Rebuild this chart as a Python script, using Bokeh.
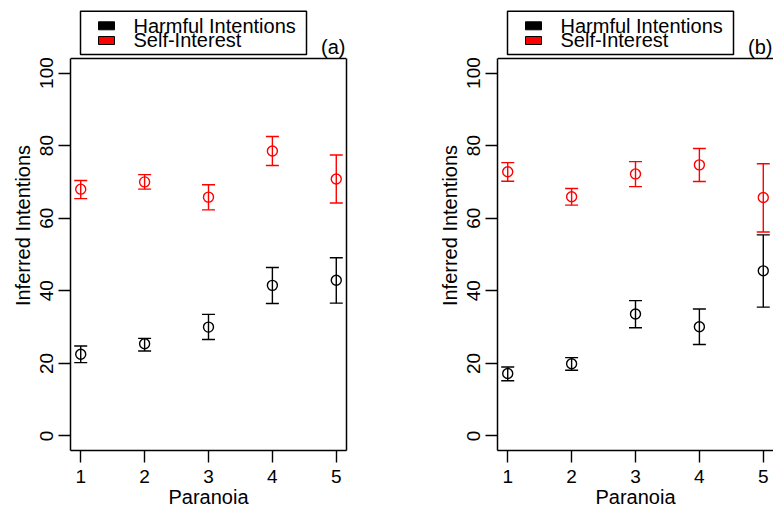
import math
from bokeh.plotting import figure
from bokeh.models import (Range1d, FixedTicker, LinearAxis, Whisker, TeeHead, Span,
                          ColumnDataSource, BoxAnnotation, Label)
from bokeh.layouts import row
from bokeh.embed import file_html
from bokeh.resources import INLINE

FONT = "Liberation Sans"
FS_TICK = "19px"
FS_TEXT = "20px"

# ---------------- data ----------------
paranoia = [1, 2, 3, 4, 5]
y_ticks = [0, 20, 40, 60, 80, 100]
series_names = ["Harmful Intentions", "Self-Interest"]
series_colors = ["black", "red"]
x_label = "Paranoia"
y_label = "Inferred Intentions"

# panel (a)
a_harm_mean = [22.5, 25.4, 30.0, 41.5, 42.9]
a_harm_lo = [20.2, 23.4, 26.6, 36.5, 36.6]
a_harm_hi = [24.8, 26.9, 33.5, 46.4, 49.1]
a_self_mean = [68.0, 70.0, 65.8, 78.5, 70.8]
a_self_lo = [65.4, 68.0, 62.3, 74.5, 64.2]
a_self_hi = [70.4, 72.0, 69.2, 82.5, 77.4]

# panel (b)
b_harm_mean = [17.2, 19.9, 33.6, 30.1, 45.5]
b_harm_lo = [15.2, 18.1, 29.8, 25.2, 35.5]
b_harm_hi = [19.0, 21.6, 37.3, 35.0, 55.4]
b_self_mean = [72.8, 65.9, 72.2, 74.7, 65.7]
b_self_lo = [70.2, 63.6, 68.7, 70.1, 56.2]
b_self_hi = [75.3, 68.2, 75.6, 79.2, 75.0]

# ---------------- layout constants ----------------
X0, X1 = 0.84, 5.16          # box x limits
Y0, Y1 = -4, 104             # box y limits
BOX_H = 392                  # box height in px
FRAME_H = 450                # frame (box + room for the legend above)
Y_END = Y0 + FRAME_H * (Y1 - Y0) / BOX_H
FRAME_W = 276


def style_axis(ax, tick_standoff, label_standoff):
    ax.major_tick_out = 12
    ax.major_tick_in = 0
    ax.minor_tick_out = 0
    ax.minor_tick_in = 0
    ax.major_tick_line_width = 1.4
    ax.major_tick_line_color = "black"
    ax.major_label_text_font = FONT
    ax.major_label_text_font_size = FS_TICK
    ax.major_label_text_color = "black"
    ax.major_label_standoff = tick_standoff
    ax.axis_line_color = "black"
    ax.axis_line_width = 1.5
    ax.axis_label_text_font = FONT
    ax.axis_label_text_font_size = FS_TEXT
    ax.axis_label_text_font_style = "normal"
    ax.axis_label_text_color = "black"
    ax.axis_label_standoff = label_standoff


def make_panel(tag, series, width, right_border, draw_right):
    p = figure(width=width, height=510,
               x_range=Range1d(X0, X1), y_range=Range1d(Y0, Y_END),
               output_backend="svg", toolbar_location=None,
               min_border_left=70, min_border_right=right_border,
               min_border_top=0, min_border_bottom=60)
    p.grid.visible = False
    p.outline_line_color = None
    p.background_fill_color = "white"
    p.border_fill_color = "white"

    p.xaxis.ticker = FixedTicker(ticks=paranoia)
    p.yaxis.ticker = FixedTicker(ticks=y_ticks)
    p.yaxis.bounds = (Y0, Y1)
    style_axis(p.xaxis[0], 7, 0)
    style_axis(p.yaxis[0], 5, 4)
    p.yaxis.major_label_orientation = "vertical"
    p.xaxis.axis_label = x_label
    p.yaxis.axis_label = y_label

    # box: top edge and (when visible) right edge
    p.add_layout(Span(location=Y1, dimension="width", line_color="black", line_width=1.5))
    if draw_right:
        rax = LinearAxis(bounds=(Y0, Y1), ticker=FixedTicker(ticks=[]),
                         major_label_text_font_size="0px", major_label_standoff=0,
                         major_tick_out=0, major_tick_in=0, minor_tick_out=0, minor_tick_in=0,
                         axis_line_color="black", axis_line_width=1.5)
        p.add_layout(rax, "right")

    for (mean, lo, hi), col in zip(series, series_colors):
        src = ColumnDataSource(dict(x=paranoia, m=mean, lo=lo, hi=hi))
        w = Whisker(source=src, base="x", upper="hi", lower="lo",
                    line_color=col, line_width=1.4,
                    upper_head=TeeHead(size=13, line_color=col, line_width=1.4),
                    lower_head=TeeHead(size=13, line_color=col, line_width=1.4))
        p.add_layout(w)
        p.scatter("x", "m", source=src, marker="circle", size=10,
                  fill_color=None, line_color=col, line_width=1.4)

    # legend (box, colour swatches, labels) placed above the data box
    scr = dict(left_units="screen", right_units="screen", top_units="screen", bottom_units="screen")
    p.add_layout(BoxAnnotation(left=10, right=236, top=439.3, bottom=396,
                               fill_color="white", fill_alpha=1.0,
                               line_color="black", line_width=1.5, line_alpha=1.0, **scr))
    rows_y = [424.7, 410.0]
    base_y = [424.7, 410.3]
    for name, col, yc, yb in zip(series_names, series_colors, rows_y, base_y):
        p.add_layout(BoxAnnotation(left=28, right=44, top=yc + 4, bottom=yc - 4,
                                   fill_color=col, fill_alpha=1.0,
                                   line_color="black", line_width=1, line_alpha=1.0, **scr))
        p.add_layout(Label(x=63, y=yb, x_units="screen", y_units="screen", text=name,
                           text_align="left", text_baseline="alphabetic",
                           text_font=FONT, text_font_size=FS_TEXT, text_color="black"))

    p.add_layout(Label(x=FRAME_W - 1, y=404, x_units="screen", y_units="screen", text=tag,
                       text_align="right", text_baseline="alphabetic",
                       text_font=FONT, text_font_size=FS_TEXT, text_color="black"))
    return p


p1 = make_panel("(a)", [(a_harm_mean, a_harm_lo, a_harm_hi), (a_self_mean, a_self_lo, a_self_hi)],
                width=427, right_border=81, draw_right=True)
p2 = make_panel("(b)", [(b_harm_mean, b_harm_lo, b_harm_hi), (b_self_mean, b_self_lo, b_self_hi)],
                width=346, right_border=0, draw_right=False)

layout = row(p1, p2)
open("out.html", "w").write(file_html(layout, INLINE))
